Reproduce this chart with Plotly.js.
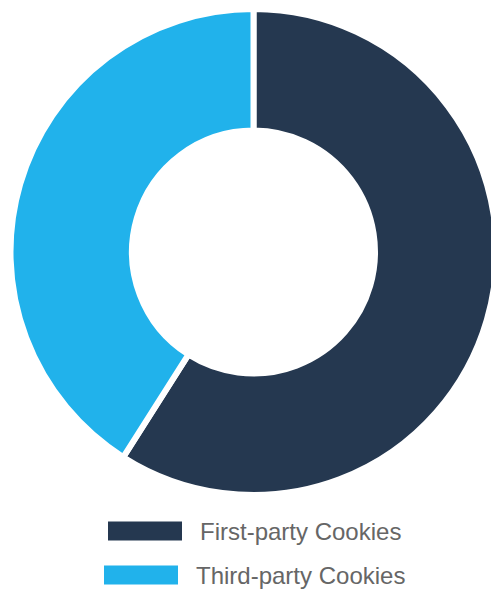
<!DOCTYPE html>
<html>
<head>
<meta charset="utf-8">
<script src="https://cdn.plot.ly/plotly-3.0.1.min.js"></script>
<style>html,body{margin:0;padding:0;background:#fff;overflow:hidden;}#chart{width:500px;height:592px;}</style>
</head>
<body>
<div id="chart"></div>
<script>
const labels = ["First-party Cookies", "Third-party Cookies"];
const values = [59, 41];
const colors = ["#253850", "#21b2eb"];

const W = 500, H = 592;
const px = x => x / W;
const py = y => 1 - y / H;

const cx = 253.5, cy = 252, R = 243;
const trace = {
  type: "pie",
  labels: labels,
  values: values,
  hole: 0.5,
  sort: false,
  direction: "clockwise",
  rotation: 0,
  textinfo: "none",
  hoverinfo: "label+percent",
  marker: { colors: colors, line: { color: "#ffffff", width: 6 } },
  domain: { x: [px(cx - R), px(cx + R)], y: [py(cy + R), py(cy - R)] },
  showlegend: false
};

const shapes = [];
const annotations = [];
const rows = [
  { swX0: 108, swX1: 182, yc: 531, tx: 198 },
  { swX0: 104, swX1: 178, yc: 575, tx: 194 }
];
labels.forEach((lab, i) => {
  const r = rows[i];
  shapes.push({
    type: "rect", xref: "paper", yref: "paper",
    x0: px(r.swX0), x1: px(r.swX1), y0: py(r.yc + 9.5), y1: py(r.yc - 9.5),
    fillcolor: colors[i], line: { width: 0 }
  });
  annotations.push({
    xref: "paper", yref: "paper", x: px(r.tx), y: py(r.yc),
    xanchor: "left", yanchor: "middle", showarrow: false,
    text: lab, font: { family: "Liberation Sans, Arial, sans-serif", size: 24, color: "#666666" }
  });
});

const layout = {
  width: W, height: H,
  margin: { l: 0, r: 0, t: 0, b: 0 },
  paper_bgcolor: "#ffffff",
  shapes: shapes,
  annotations: annotations,
  showlegend: false
};

Plotly.newPlot("chart", [trace], layout, { displayModeBar: false, staticPlot: true });
</script>
</body>
</html>
